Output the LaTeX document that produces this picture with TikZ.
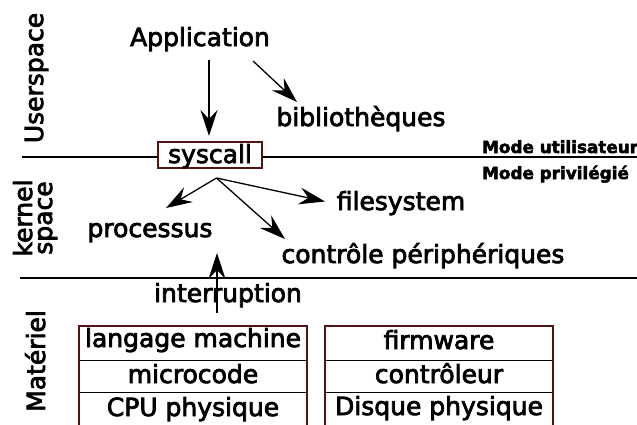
\documentclass[tikz,border=0pt]{standalone}
\usepackage{fontspec}
\setmainfont{DejaVu Sans}[FakeBold=3]
\newfontfamily\modefont{DejaVu Sans Bold}[FakeBold=3]
\usetikzlibrary{arrows.meta}
\definecolor{boxred}{RGB}{80,20,20}
\tikzset{
  lbl/.style={inner sep=0pt, anchor=base, font=\fontsize{25}{25}\selectfont},
  modelbl/.style={inner sep=0pt, anchor=base west, font=\fontsize{16.8}{16.8}\modefont},
  arr/.style={line width=1.3pt, -{Stealth[length=26pt,width=17pt,inset=9pt]}},
  sep/.style={line width=1.3pt},
  rowline/.style={line width=1.1pt},
  frame/.style={line width=1.1pt, draw=boxred}
}
\begin{document}
\begin{tikzpicture}[x=1pt,y=-1pt]
\useasboundingbox (0,0) rectangle (637,424);
% separators
\coordinate (l1a) at (22,157); \coordinate (l1b) at (637,157);
\coordinate (l2a) at (20,278); \coordinate (l2b) at (637,278);
\draw[sep] (l1a) -- (l1b);
\draw[sep] (l2a) -- (l2b);
% side labels
\node[lbl, rotate=90] (user) at (43,78) {Userspace};
\node[lbl, rotate=90] (kern) at (32,218) {kernel};
\node[lbl, rotate=90] (spc) at (52,218) {space};
\node[lbl, rotate=90] (mat) at (45,361) {Matériel};
% mode labels
\node[modelbl] (mu) at (482,153) {Mode utilisateur};
\node[modelbl] (mp) at (482,179) {Mode privilégié};
% main nodes
\node[lbl] (app) at (200,46) {Application};
\node[lbl] (bib) at (361,126) {bibliothèques};
\node[frame, fill=white, minimum width=104pt, minimum height=26pt, inner sep=0pt] (sys) at (210,155) {};
\node[lbl] (systxt) at (210,163) {syscall};
\node[lbl] (proc) at (150,237) {processus};
\node[lbl] (fs) at (401,210) {filesystem};
\node[lbl] (ctl) at (423,263) {contrôle périphériques};
\node[lbl] (intr) at (228,302) {interruption};
% arrow end points
\coordinate (a1s) at (209,60);  \coordinate (a1e) at (209,136);
\coordinate (a2s) at (253,61);  \coordinate (a2e) at (297,102);
\coordinate (fan) at (216.5,178);
\coordinate (pe) at (166,208);
\coordinate (fe) at (325,201.5);
\coordinate (ce) at (285,239);
\coordinate (is) at (217,313);  \coordinate (ie) at (217,253);
\draw[arr] (a1s) -- (a1e);
\draw[arr] (a2s) -- (a2e);
\draw[arr] (fan) -- (pe);
\draw[arr] (fan) -- (fe);
\draw[arr] (fan) -- (ce);
\draw[arr] (is) -- (ie);
% hardware stacks
\coordinate (L1) at (79,326); \coordinate (L2) at (307,326);
\coordinate (R1) at (325,326); \coordinate (R2) at (553,326);
\draw[rowline] (79,360.5) -- (307,360.5);
\draw[rowline] (79,392.5) -- (307,392.5);
\draw[rowline] (325,360.5) -- (553,360.5);
\draw[rowline] (325,392.5) -- (553,392.5);
\draw[frame] (79,430) -- (L1) -- (L2) -- (307,430);
\draw[frame] (325,430) -- (R1) -- (R2) -- (553,430);
\node[lbl] (lm) at (193,347) {langage machine};
\node[lbl] (mc) at (193,383) {microcode};
\node[lbl] (cpu) at (193,416) {CPU physique};
\node[lbl] (fw) at (439,349) {firmware};
\node[lbl] (ct) at (439,383) {contrôleur};
\node[lbl] (dp) at (439,415) {Disque physique};
\end{tikzpicture}
\end{document}
